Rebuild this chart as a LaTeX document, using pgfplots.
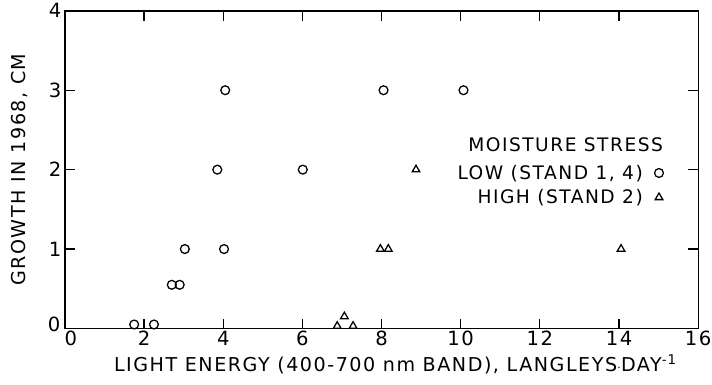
\documentclass[border=0pt]{standalone}
\usepackage{pgfplots}
\pgfplotsset{compat=1.18}
\usepackage{fontspec}
\setmainfont{DejaVu Sans}[LetterSpace=8.0]
\begin{document}
\begin{tikzpicture}
\begin{axis}[
  scale only axis,
  width=644bp, height=323bp,
  xmin=0, xmax=16, ymin=0, ymax=4,
  xtick={2,4,6,8,10,12,14,16},
  ytick={1,2,3,4},
  extra x ticks={0}, extra y ticks={0},
  extra x tick style={major tick length=0pt, xticklabel style={xshift=6bp}},
  extra y tick style={major tick length=0pt, yticklabel style={yshift=4bp, xshift=-1bp}},
  tick align=inside,
  major tick length=10bp,
  axis line style={line width=1.4pt},
  every tick/.style={black, line width=1.2pt},
  tick label style={font=\fontsize{20}{22}\selectfont},
  /pgf/number format/assume math mode=true,
  xticklabel style={yshift=1bp},
  xlabel={LIGHT ENERGY (400-700 nm BAND), LANGLEYS{\fontsize{14}{14}\selectfont$\cdot$}DAY\textsuperscript{-1}},
  ylabel={GROWTH IN 1968, CM},
  label style={font=\fontsize{19.5}{22}\selectfont},
  xlabel style={yshift=-2bp, xshift=14bp},
  ylabel style={yshift=14bp},
  legend style={draw=none, fill=none, at={(rel axis cs:0.95,0.527)}, anchor=north east,
    font=\fontsize{19}{22}\selectfont, row sep=5bp, column sep=10bp, legend cell align=right},
  legend plot pos=right,
]
\addplot[only marks, mark=o, mark size=4.5bp, line width=1.3pt] coordinates {
(1.75,0.05) (2.25,0.05) (2.7,0.55) (2.9,0.55) (3.03,1.0) (4.02,1.0)
(3.85,2.0) (4.05,3.0) (6.01,2.0) (8.05,3.0) (10.07,3.0)
};
\addlegendentry{LOW (STAND 1, 4)}
\addplot[only marks, mark=triangle, mark size=4.5bp, line width=1.3pt] coordinates {
(6.88,0.03) (7.06,0.15) (7.28,0.03) (7.97,1.0) (8.17,1.0) (8.87,2.0) (14.05,1.0)
};
\addlegendentry{HIGH (STAND 2)}
\node[font=\fontsize{19}{22}\selectfont] at (axis cs:12.65,2.32) {MOISTURE STRESS};
\end{axis}
\pgfresetboundingbox
\path[use as bounding box] (-66bp,-57bp) rectangle (658bp,334bp);
\end{tikzpicture}
\end{document}
